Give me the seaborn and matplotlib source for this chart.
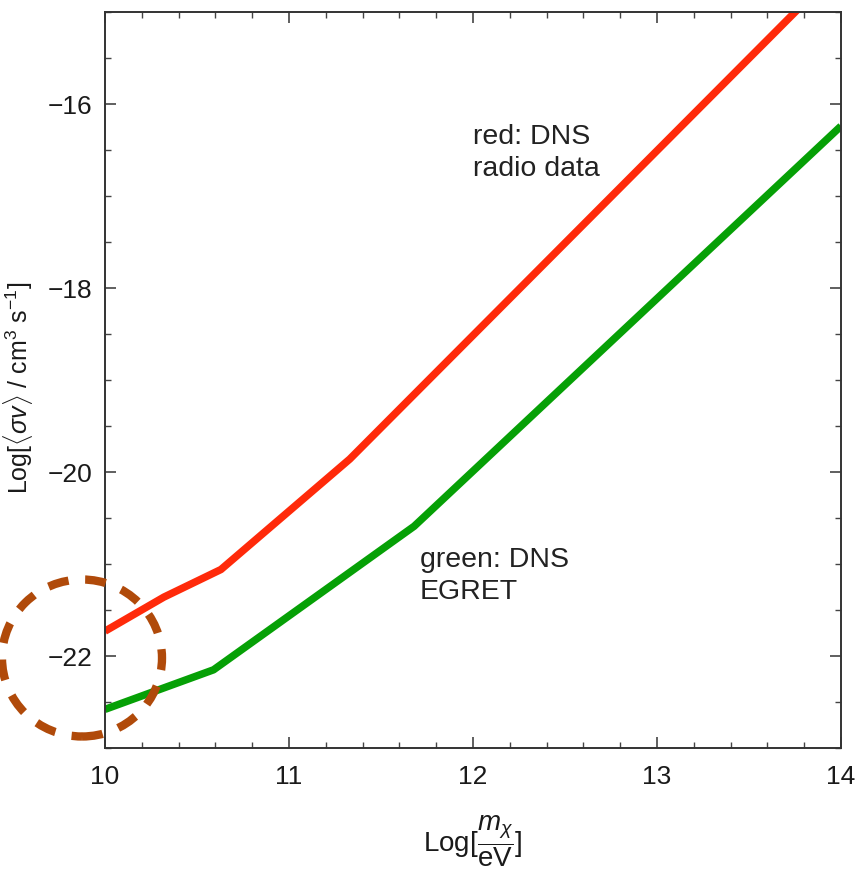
import matplotlib
matplotlib.use("Agg")
import matplotlib.pyplot as plt
import matplotlib.patches as mpatches
from matplotlib.ticker import MultipleLocator
import numpy as np
import pandas as pd
import seaborn as sns

# Limits on the annihilation cross-section vs. dark-matter mass (log10 scale)
radio_mass = [10.0, 10.32, 10.63, 11.33, 14.0]
radio_sigv = [-21.73, -21.36, -21.06, -19.86, -14.5]

egret_mass = [10.0, 10.59, 11.68, 14.0]
egret_sigv = [-22.58, -22.15, -20.59, -16.24]

x_ticks = [10, 11, 12, 13, 14]
y_ticks = [-22, -20, -18, -16]

sns.set_style("ticks")
plt.rcParams["font.family"] = ["Liberation Sans", "DejaVu Sans"]
plt.rcParams["mathtext.fontset"] = "custom"
plt.rcParams["mathtext.rm"] = "Liberation Sans"
plt.rcParams["mathtext.it"] = "Liberation Sans:italic"

df = pd.concat([
    pd.DataFrame({"mass": radio_mass, "sigv": radio_sigv, "set": "radio"}),
    pd.DataFrame({"mass": egret_mass, "sigv": egret_sigv, "set": "egret"}),
])

fig = plt.figure(figsize=(8.55, 8.75), dpi=100)
ax = fig.add_axes([105 / 855, 1 - 748 / 875, 736 / 855, 736 / 875])

sns.lineplot(data=df, x="mass", y="sigv", hue="set",
             palette={"radio": "#ff2a0a", "egret": "#06a006"},
             linewidth=5.4, legend=False, ax=ax, sort=False,
             solid_capstyle="butt")

ax.set_xlim(10, 14)
ax.set_ylim(-23, -15)
ax.set_xticks(x_ticks)
ax.set_yticks(y_ticks)
ax.set_yticklabels([f"\u2212{abs(v)}" for v in y_ticks])
ax.xaxis.set_minor_locator(MultipleLocator(0.2))
ax.yaxis.set_minor_locator(MultipleLocator(0.5))
ax.tick_params(which="both", direction="in", top=True, right=True,
               colors="#444444", labelcolor="#1a1a1a", labelsize=19)
ax.tick_params(axis="x", which="major", pad=12)
ax.tick_params(axis="y", which="major", pad=9)
ax.tick_params(which="major", length=8, width=1.2)
ax.tick_params(which="minor", length=4, width=1.0)
for sp in ax.spines.values():
    sp.set_color("#333333")
    sp.set_linewidth(1.4)

ax.set_xlabel(r"Log$[\dfrac{m_{\chi}}{\mathrm{eV}}]$", fontsize=20,
              color="#1a1a1a", labelpad=18)
ax.set_ylabel("")

fig.text(1 / 855, 1 - 282 / 875,
         r"Log[$\langle\sigma v\rangle$ / cm$^{3}$ s$^{-1}$]",
         rotation=90, ha="left", va="top", fontsize=18, color="#1a1a1a")

ax.text(12.0, -16.22, "red: DNS\nradio data", fontsize=20.5,
        color="#222222", va="top", ha="left", linespacing=1.3)
ax.text(11.71, -20.81, "green: DNS\nEGRET", fontsize=20.5,
        color="#222222", va="top", ha="left", linespacing=1.3)

# dashed circle highlighting the low-mass end
circle = mpatches.Ellipse((82 / 855, 1 - 658 / 875), 160 / 855, 157 / 875,
                          transform=fig.transFigure, fill=False,
                          edgecolor="#b04a0a", linewidth=6,
                          linestyle=(0, (2.5, 2.0)), clip_on=False)
fig.add_artist(circle)

fig.savefig("out.png", dpi=100, facecolor="white")
